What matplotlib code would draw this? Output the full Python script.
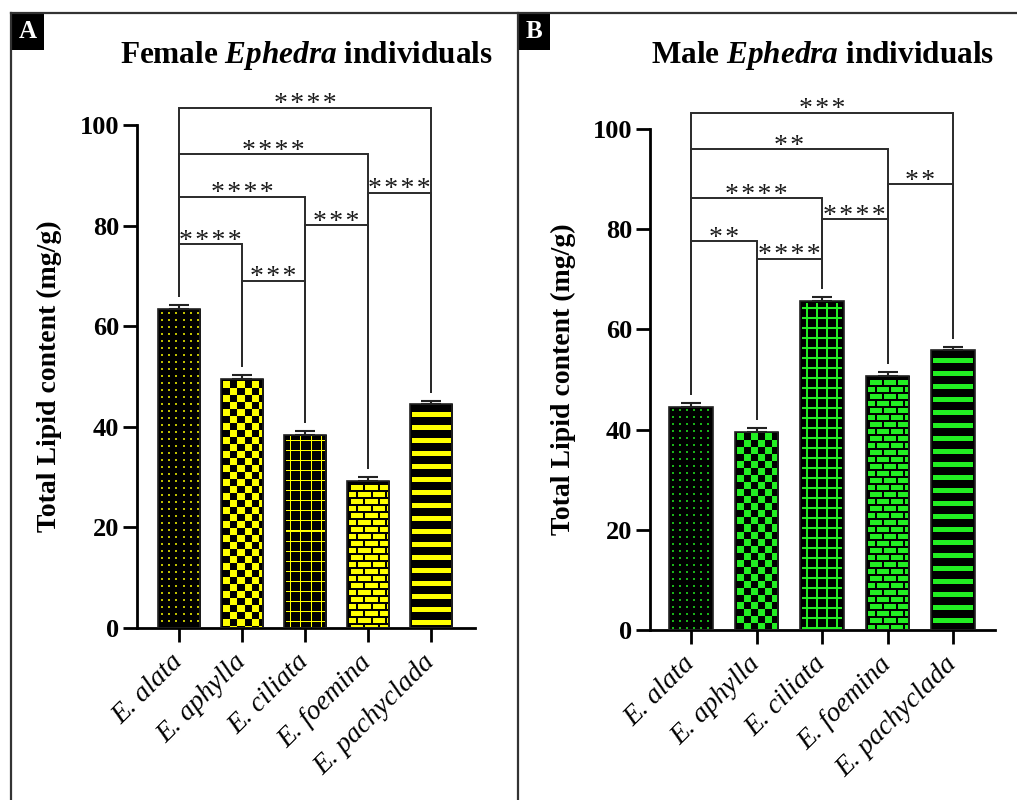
import numpy as np
import matplotlib
matplotlib.use("Agg")
import matplotlib.pyplot as plt
import matplotlib.colors as mcolors
from matplotlib.lines import Line2D
from matplotlib.patches import Rectangle

plt.rcParams['font.family'] = ['Liberation Serif', 'DejaVu Serif']
plt.rcParams['mathtext.fontset'] = 'custom'
plt.rcParams['mathtext.it'] = 'Liberation Serif:italic:bold'
plt.rcParams['mathtext.bf'] = 'Liberation Serif:bold'
plt.rcParams['mathtext.rm'] = 'Liberation Serif'

# ---------------- data ----------------
species = ["E. alata", "E. aphylla", "E. ciliata", "E. foemina", "E. pachyclada"]

female_values = [63.4, 49.5, 38.4, 29.2, 44.5]
female_errors = [0.8, 0.8, 0.8, 0.8, 0.7]
female_sig = [(0, 4, 103.4, "****"), (0, 3, 94.2, "****"), (0, 2, 85.7, "****"),
              (0, 1, 76.3, "****"), (1, 2, 69.0, "***"), (2, 3, 80.1, "***"),
              (3, 4, 86.5, "****")]

male_values = [44.6, 39.6, 65.6, 50.6, 55.8]
male_errors = [0.8, 0.8, 0.8, 0.8, 0.7]
male_sig = [(0, 4, 103.2, "***"), (0, 3, 96.0, "**"), (0, 2, 86.2, "****"),
            (0, 1, 77.6, "**"), (1, 2, 74.1, "****"), (2, 3, 82.0, "****"),
            (3, 4, 89.0, "**")]

yticks = [0, 20, 40, 60, 80, 100]
ylabel = "Total Lipid content (mg/g)"

# ---------------- style ----------------
patterns = ["dots", "checker", "grid", "brick", "stripes"]
W, H = 1017, 800
fig = plt.figure(figsize=(W / 100, H / 100), dpi=100)


def texture(kind, w, h, color, gridw):
    rgb = np.array(mcolors.to_rgb(color))
    img = np.zeros((h, w, 3))
    yy, xx = np.mgrid[0:h, 0:w]
    if kind == "dots":
        mask = ((xx % 7) >= 3) & ((xx % 7) < 5) & ((yy % 7) >= 3) & ((yy % 7) < 5)
        rgb = rgb * 0.75
    elif kind == "checker":
        mask = (((xx - 2) // 7 + (yy - 2) // 7) % 2) == 0
    elif kind == "grid":
        mask = (((xx - 6) % 10) < gridw) | (((yy - 6) % 10) < gridw)
    elif kind == "brick":
        row = (yy - 2) // 7
        off = (row % 2) * 7
        mask = ~((((yy - 2) % 7) < 2) | (((xx - 2 + off) % 14) < 2))
    else:  # stripes
        mask = (((yy - 8) % 13) < 5) & (yy >= 8)
    inner = (xx >= 2) & (xx < w - 2) & (yy >= 2) & (yy < h - 1)
    img[mask & inner] = rgb
    return img


def panel(rect, values, errors, sig, color, gridw, title_parts, xlim, letter, letter_x,
          title_x, label_x):
    ax = fig.add_axes(rect)
    x = np.arange(len(values))
    ax.set_xlim(*xlim)
    ax.set_ylim(0, 100)
    base = ax.bar(x, values, width=0.667, color="black", linewidth=0, zorder=1)
    for patch, kind in zip(base, patterns):
        bb = patch.get_window_extent()
        w = max(int(round(bb.width)), 1)
        h = max(int(round(bb.height)), 1)
        img = texture(kind, w, h, color, gridw)
        x0 = patch.get_x()
        im = ax.imshow(img, extent=(x0, x0 + patch.get_width(), 0, patch.get_height()),
                       origin="upper", interpolation="nearest", aspect="auto", zorder=2)
        im.set_clip_path(patch)
    ax.bar(x, values, width=0.667, fill=False, edgecolor="#222222", linewidth=1.2, zorder=3)
    ax.errorbar(x, values, yerr=[np.zeros(len(values)), errors], fmt="none",
                ecolor="#222222", elinewidth=1.5, capsize=7, capthick=1.5, zorder=4)
    ax.set_xlim(*xlim)
    ax.set_ylim(0, 100)
    ax.set_aspect("auto")

    # significance brackets
    gap = 1.8
    for i, j, yb, lab in sig:
        yi = values[i] + errors[i] + gap
        yj = values[j] + errors[j] + gap
        ax.plot([x[i], x[i], x[j], x[j]], [yi, yb, yb, yj], color="#2a2a2a",
                lw=1.4, clip_on=False, zorder=5, solid_joinstyle="miter")
        ax.text((x[i] + x[j]) / 2, yb - 0.7, "\u200a".join(lab), ha="center", va="baseline",
                fontsize=20, color="#1a1a1a", clip_on=False)

    for s in ["top", "right"]:
        ax.spines[s].set_visible(False)
    for s in ["left", "bottom"]:
        ax.spines[s].set_linewidth(2.0)
    ax.set_yticks(yticks)
    ax.set_yticklabels([str(t) for t in yticks], fontsize=19, fontweight="bold")
    ax.set_xticks(x)
    ax.set_xticklabels(species, fontsize=20, fontstyle="italic", rotation=45,
                       ha="right", va="center", rotation_mode="anchor")
    ax.tick_params(axis="y", length=10, width=2.0, pad=3)
    ax.tick_params(axis="x", length=10, width=2.0, pad=12)
    ax.set_ylabel(ylabel, fontsize=20, fontweight="bold")
    ax.yaxis.set_label_coords(label_x, 0.5)

    # title
    fig.text(title_x, 1 - 56 / H, title_parts[0] + r" $\mathbf{\it{Ephedra}}$ " + title_parts[1],
             ha="center", va="center", fontsize=22.5, fontweight="bold")
    # panel letter box
    fig.add_artist(Rectangle((letter_x / W, 1 - 50 / H), 33 / W, 37 / H,
                             transform=fig.transFigure, facecolor="black", edgecolor="none"))
    fig.text((letter_x + 16.5) / W, 1 - 31 / H, letter, color="white", fontsize=18,
             fontweight="bold", ha="center", va="center")
    return ax


panel([137 / W, 1 - 628 / H, 338 / W, 503 / H], female_values, female_errors, female_sig,
      "#FFFF00", 1, ("Female", "individuals"), (-0.667, 4.70), "A", 11, 306 / W, -0.222)
panel([650 / W, 1 - 630 / H, 345 / W, 501 / H], male_values, male_errors, male_sig,
      "#22EE22", 2, ("Male", "individuals"), (-0.626, 4.64), "B", 517, 823 / W, -0.215)

# frame lines
for xs, ys in [([11 / W, 1.0], [1 - 13 / H, 1 - 13 / H]),
               ([11 / W, 11 / W], [0, 1 - 13 / H]),
               ([518 / W, 518 / W], [0, 1 - 13 / H])]:
    fig.add_artist(Line2D(xs, ys, transform=fig.transFigure, color="#333333", lw=1.6))

fig.savefig("out.png", dpi=100)
